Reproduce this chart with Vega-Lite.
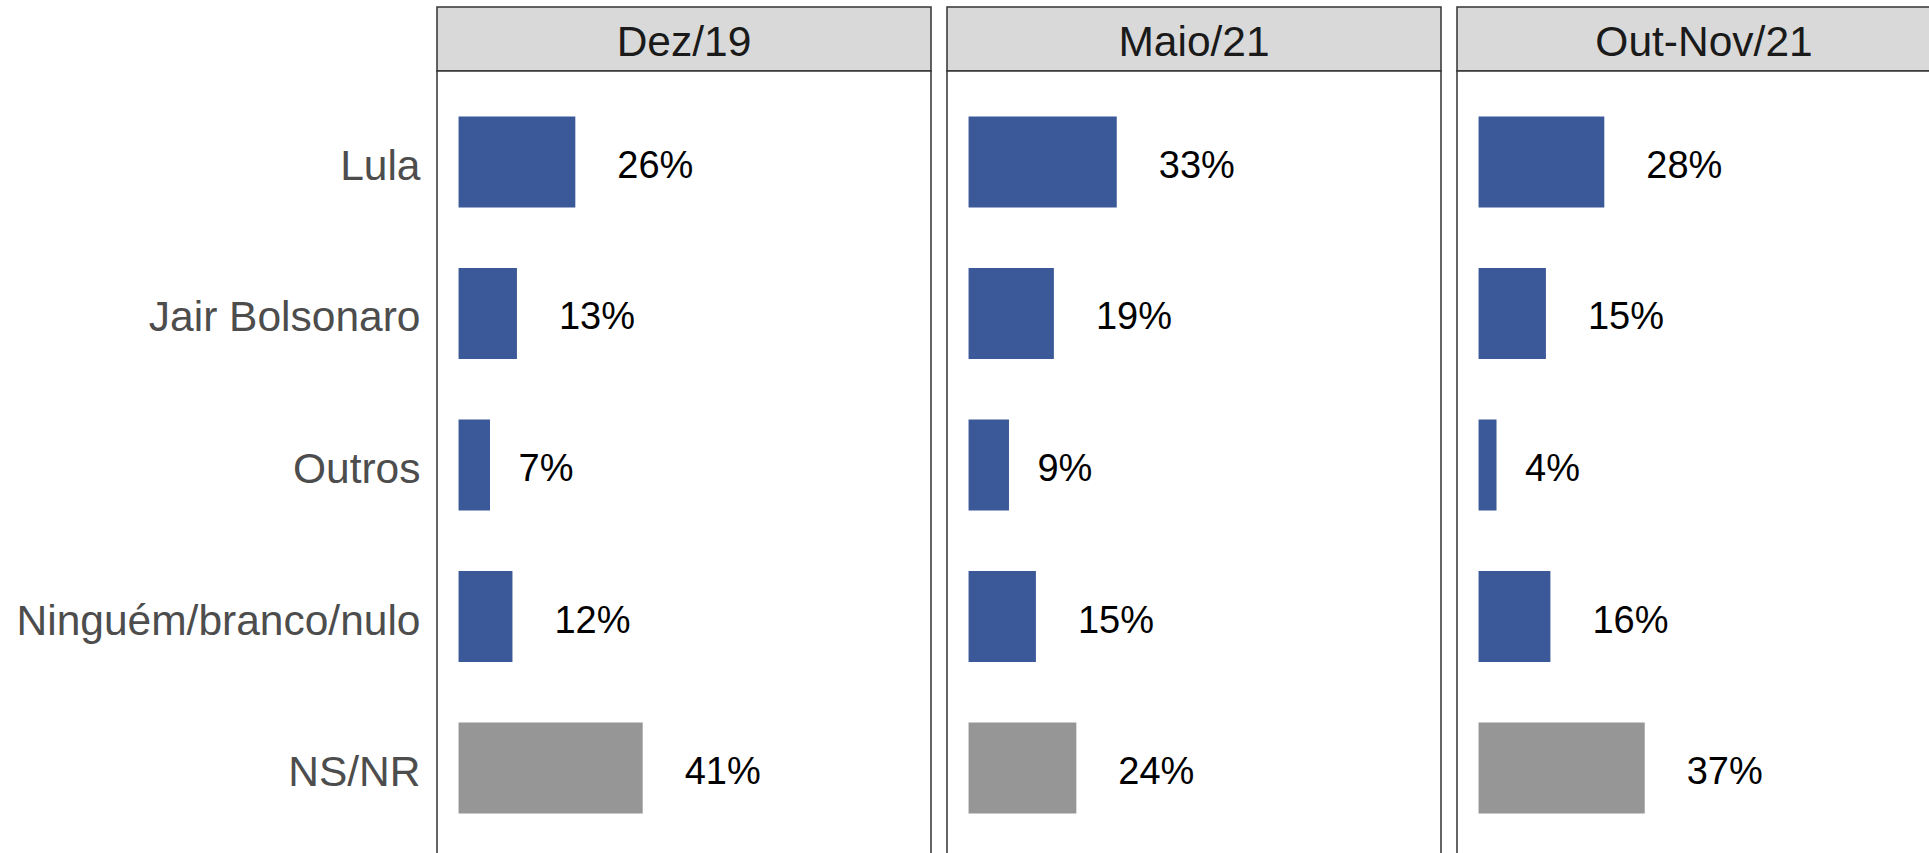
{
  "$schema": "https://vega.github.io/schema/vega-lite/v6.json",
  "padding": {"left": 15, "top": 6, "right": 0, "bottom": 0},
  "background": "white",
  "config": {"font": "Liberation Sans", "view": {"stroke": null}},
  "datasets": {
    "pesquisa": [
      {"periodo": "Dez/19", "resposta": "Lula", "valor": 0.26},
      {"periodo": "Dez/19", "resposta": "Jair Bolsonaro", "valor": 0.13},
      {"periodo": "Dez/19", "resposta": "Outros", "valor": 0.07},
      {"periodo": "Dez/19", "resposta": "Ninguém/branco/nulo", "valor": 0.12},
      {"periodo": "Dez/19", "resposta": "NS/NR", "valor": 0.41},
      {"periodo": "Maio/21", "resposta": "Lula", "valor": 0.33},
      {"periodo": "Maio/21", "resposta": "Jair Bolsonaro", "valor": 0.19},
      {"periodo": "Maio/21", "resposta": "Outros", "valor": 0.09},
      {"periodo": "Maio/21", "resposta": "Ninguém/branco/nulo", "valor": 0.15},
      {"periodo": "Maio/21", "resposta": "NS/NR", "valor": 0.24},
      {"periodo": "Out-Nov/21", "resposta": "Lula", "valor": 0.28},
      {"periodo": "Out-Nov/21", "resposta": "Jair Bolsonaro", "valor": 0.15},
      {"periodo": "Out-Nov/21", "resposta": "Outros", "valor": 0.04},
      {"periodo": "Out-Nov/21", "resposta": "Ninguém/branco/nulo", "valor": 0.16},
      {"periodo": "Out-Nov/21", "resposta": "NS/NR", "valor": 0.37}
    ]
  },
  "columns": 3,
  "spacing": {"row": 0, "column": 16},
  "bounds": "flush",
  "concat": [
    {
      "width": 494, "height": 64,
      "data": {"values": [{"periodo": "Dez/19"}]},
      "view": {"fill": "#D9D9D9", "stroke": "#333333", "strokeWidth": 1.5},
      "mark": {"type": "text", "fontSize": 42.5, "color": "#1A1A1A", "baseline": "middle", "align": "center", "dy": 4},
      "encoding": {"text": {"field": "periodo", "type": "nominal"}}
    },
    {
      "width": 494, "height": 64,
      "data": {"values": [{"periodo": "Maio/21"}]},
      "view": {"fill": "#D9D9D9", "stroke": "#333333", "strokeWidth": 1.5},
      "mark": {"type": "text", "fontSize": 42.5, "color": "#1A1A1A", "baseline": "middle", "align": "center", "dy": 4},
      "encoding": {"text": {"field": "periodo", "type": "nominal"}}
    },
    {
      "width": 494, "height": 64,
      "data": {"values": [{"periodo": "Out-Nov/21"}]},
      "view": {"fill": "#D9D9D9", "stroke": "#333333", "strokeWidth": 1.5},
      "mark": {"type": "text", "fontSize": 42.5, "color": "#1A1A1A", "baseline": "middle", "align": "center", "dy": 4},
      "encoding": {"text": {"field": "periodo", "type": "nominal"}}
    },
    {
      "width": 494, "height": 788,
      "data": {"name": "pesquisa"},
      "transform": [{"filter": "datum.periodo === 'Dez/19'"}],
      "view": {"stroke": "#333333", "strokeWidth": 1.5, "fill": "white"},
      "encoding": {
        "y": {"field": "resposta", "type": "nominal",
              "scale": {"domain": ["Lula", "Jair Bolsonaro", "Outros", "Ninguém/branco/nulo", "NS/NR"], "paddingInner": 0.4, "paddingOuter": 0.3},
              "axis": {"title": null, "labelFontSize": 42.5, "labelColor": "#4D4D4D", "ticks": false, "domain": false, "grid": false, "labelPadding": 17, "labelLimit": 1000, "labelOffset": 5}},
        "x": {"field": "valor", "type": "quantitative", "scale": {"domain": [-0.048, 1.052], "nice": false}, "axis": null}
      },
      "layer": [
        {"mark": {"type": "bar"},
         "encoding": {"color": {"field": "resposta", "type": "nominal", "legend": null,
           "scale": {"domain": ["Lula", "Jair Bolsonaro", "Outros", "Ninguém/branco/nulo", "NS/NR"], "range": ["#3B5998", "#3B5998", "#3B5998", "#3B5998", "#969696"]}}}},
        {"transform": [{"filter": "datum.valor < 0.1"}],
         "mark": {"type": "text", "align": "left", "baseline": "middle", "dx": 28.5, "dy": 5, "fontSize": 38, "color": "#000000"},
         "encoding": {"text": {"field": "valor", "type": "quantitative", "format": ".0%"}}},
        {"transform": [{"filter": "datum.valor >= 0.1"}],
         "mark": {"type": "text", "align": "left", "baseline": "middle", "dx": 42, "dy": 5, "fontSize": 38, "color": "#000000"},
         "encoding": {"text": {"field": "valor", "type": "quantitative", "format": ".0%"}}}
      ]
    },
    {
      "width": 494, "height": 788,
      "data": {"name": "pesquisa"},
      "transform": [{"filter": "datum.periodo === 'Maio/21'"}],
      "view": {"stroke": "#333333", "strokeWidth": 1.5, "fill": "white"},
      "encoding": {
        "y": {"field": "resposta", "type": "nominal",
              "scale": {"domain": ["Lula", "Jair Bolsonaro", "Outros", "Ninguém/branco/nulo", "NS/NR"], "paddingInner": 0.4, "paddingOuter": 0.3},
              "axis": null},
        "x": {"field": "valor", "type": "quantitative", "scale": {"domain": [-0.048, 1.052], "nice": false}, "axis": null}
      },
      "layer": [
        {"mark": {"type": "bar"},
         "encoding": {"color": {"field": "resposta", "type": "nominal", "legend": null,
           "scale": {"domain": ["Lula", "Jair Bolsonaro", "Outros", "Ninguém/branco/nulo", "NS/NR"], "range": ["#3B5998", "#3B5998", "#3B5998", "#3B5998", "#969696"]}}}},
        {"transform": [{"filter": "datum.valor < 0.1"}],
         "mark": {"type": "text", "align": "left", "baseline": "middle", "dx": 28.5, "dy": 5, "fontSize": 38, "color": "#000000"},
         "encoding": {"text": {"field": "valor", "type": "quantitative", "format": ".0%"}}},
        {"transform": [{"filter": "datum.valor >= 0.1"}],
         "mark": {"type": "text", "align": "left", "baseline": "middle", "dx": 42, "dy": 5, "fontSize": 38, "color": "#000000"},
         "encoding": {"text": {"field": "valor", "type": "quantitative", "format": ".0%"}}}
      ]
    },
    {
      "width": 494, "height": 788,
      "data": {"name": "pesquisa"},
      "transform": [{"filter": "datum.periodo === 'Out-Nov/21'"}],
      "view": {"stroke": "#333333", "strokeWidth": 1.5, "fill": "white"},
      "encoding": {
        "y": {"field": "resposta", "type": "nominal",
              "scale": {"domain": ["Lula", "Jair Bolsonaro", "Outros", "Ninguém/branco/nulo", "NS/NR"], "paddingInner": 0.4, "paddingOuter": 0.3},
              "axis": null},
        "x": {"field": "valor", "type": "quantitative", "scale": {"domain": [-0.048, 1.052], "nice": false}, "axis": null}
      },
      "layer": [
        {"mark": {"type": "bar"},
         "encoding": {"color": {"field": "resposta", "type": "nominal", "legend": null,
           "scale": {"domain": ["Lula", "Jair Bolsonaro", "Outros", "Ninguém/branco/nulo", "NS/NR"], "range": ["#3B5998", "#3B5998", "#3B5998", "#3B5998", "#969696"]}}}},
        {"transform": [{"filter": "datum.valor < 0.1"}],
         "mark": {"type": "text", "align": "left", "baseline": "middle", "dx": 28.5, "dy": 5, "fontSize": 38, "color": "#000000"},
         "encoding": {"text": {"field": "valor", "type": "quantitative", "format": ".0%"}}},
        {"transform": [{"filter": "datum.valor >= 0.1"}],
         "mark": {"type": "text", "align": "left", "baseline": "middle", "dx": 42, "dy": 5, "fontSize": 38, "color": "#000000"},
         "encoding": {"text": {"field": "valor", "type": "quantitative", "format": ".0%"}}}
      ]
    }
  ]
}
